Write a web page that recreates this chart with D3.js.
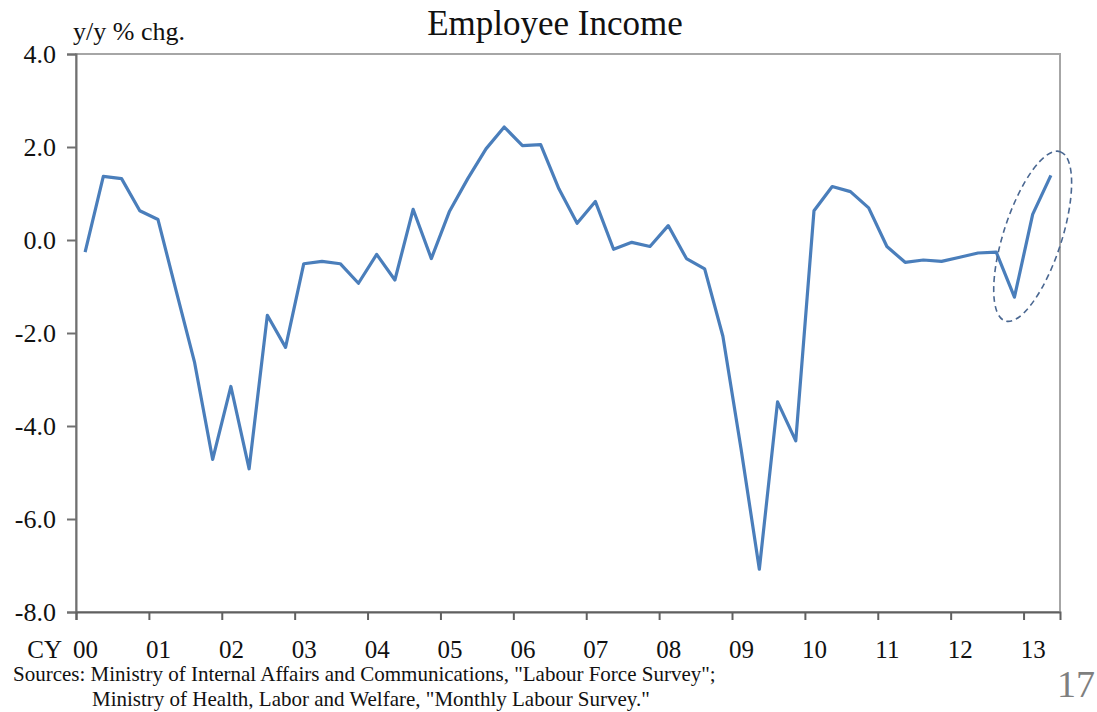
<!DOCTYPE html>
<html>
<head>
<meta charset="utf-8">
<script src="https://cdn.jsdelivr.net/npm/d3@7"></script>
<style>
  html, body { margin: 0; padding: 0; background: #fff; }
  svg { display: block; }
  text { font-family: "Times New Roman", "Liberation Serif", serif; fill: #111; }
</style>
</head>
<body>
<svg id="chart" width="1097" height="712"></svg>
<script>
// ---- data ----
const years = ["00","01","02","03","04","05","06","07","08","09","10","11","12","13"];
const quarters = [];
years.forEach(y => { for (let q = 1; q <= 4; q++) { if (!(y === "13" && q > 2)) quarters.push(y + "Q" + q); } });
const incomeValues = [
  -0.26, 1.37, 1.32, 0.63,
  0.44, -1.10, -2.62, -4.72,
  -3.15, -4.92, -1.62, -2.31,
  -0.51, -0.46, -0.51, -0.93,
  -0.31, -0.86, 0.66, -0.40,
  0.62, 1.32, 1.96, 2.43,
  2.03, 2.05, 1.10, 0.36,
  0.83, -0.20, -0.05, -0.14,
  0.31, -0.40, -0.62, -2.07,
  -4.50, -7.08, -3.48, -4.32,
  0.63, 1.15, 1.04, 0.69,
  -0.14, -0.48, -0.43, -0.46,
  -0.37, -0.28, -0.26, -1.23,
  0.55, 1.39
];
const yTicks = [4, 2, 0, -2, -4, -6, -8];
const yearTickIdx = years.map((d, i) => i * 4);

// ---- layout ----
const svg = d3.select("#chart");
const L = 76, R = 1060, T = 54, B = 612;
const FONT = '"Times New Roman", "Liberation Serif", serif';

const x = d3.scaleLinear().domain([0, quarters.length]).range([L, R]);
const y = d3.scaleLinear().domain([-8, 4]).range([B, T]);

// plot border (lighter)
svg.append("rect").attr("x", L).attr("y", T).attr("width", R - L).attr("height", B - T)
  .attr("fill", "none").attr("stroke", "#a6a6a6").attr("stroke-width", 2);

// y axis
const yAxis = svg.append("g").attr("transform", `translate(${L},0)`)
  .call(d3.axisLeft(y).tickValues(yTicks).tickSize(9).tickPadding(11).tickFormat(d => d.toFixed(1)));
yAxis.select(".domain").attr("stroke", "#707070").attr("stroke-width", 2);
yAxis.selectAll(".tick line").attr("stroke", "#707070").attr("stroke-width", 2);
yAxis.selectAll("text").style("font-size", "26px").style("fill", "#111").style("font-family", FONT);

// x axis: tick marks at year boundaries
const xAxis = svg.append("g").attr("transform", `translate(0,${B})`)
  .call(d3.axisBottom(x).tickValues(yearTickIdx).tickSize(8).tickFormat(""));
xAxis.select(".domain").attr("stroke", "#606060").attr("stroke-width", 2);
xAxis.selectAll(".tick line").attr("stroke", "#606060").attr("stroke-width", 2);

// x labels at first quarter of each year
const xLab = svg.append("g").attr("transform", `translate(0,${B})`)
  .call(d3.axisBottom(x).tickValues(yearTickIdx.map(i => i + 0.5)).tickSize(0)
    .tickFormat((d, i) => years[i]));
xLab.select(".domain").remove();
xLab.selectAll("text").attr("y", 46).attr("dy", null)
  .style("font-size", "25px").style("fill", "#111").style("font-family", FONT);

svg.append("text").attr("x", 62).attr("y", 658).attr("text-anchor", "end")
  .style("font-size", "25px").text("CY");

// line
const line = d3.line().x((d, i) => x(i + 0.5)).y(d => y(d));
svg.append("path").datum(incomeValues).attr("d", line)
  .attr("fill", "none").attr("stroke", "#4a7ebb").attr("stroke-width", 3.2)
  .attr("stroke-linejoin", "round");

// dashed ellipse highlight
const ex = x(quarters.indexOf("13Q1") + 0.5), ey = y(0.08);
svg.append("ellipse").attr("cx", 0).attr("cy", 0).attr("rx", 89).attr("ry", 29)
  .attr("transform", `translate(${ex},${ey}) rotate(-72)`)
  .attr("fill", "none").attr("stroke", "#4a6791").attr("stroke-width", 1.6)
  .attr("stroke-dasharray", "6,4");

// titles
svg.append("text").attr("x", 555).attr("y", 35).attr("text-anchor", "middle")
  .style("font-size", "35px").text("Employee Income");
svg.append("text").attr("x", 73).attr("y", 40)
  .style("font-size", "26px").text("y/y % chg.");

// sources
svg.append("text").attr("x", 13).attr("y", 681).style("font-size", "21px")
  .text('Sources: Ministry of Internal Affairs and Communications, "Labour Force Survey";');
svg.append("text").attr("x", 92).attr("y", 706).style("font-size", "21px")
  .text('Ministry of Health, Labor and Welfare, "Monthly Labour Survey."');

// page number
svg.append("text").attr("x", 1095).attr("y", 697).attr("text-anchor", "end")
  .style("font-size", "38px").style("fill", "#7f7f7f").text("17");
</script>
</body>
</html>
